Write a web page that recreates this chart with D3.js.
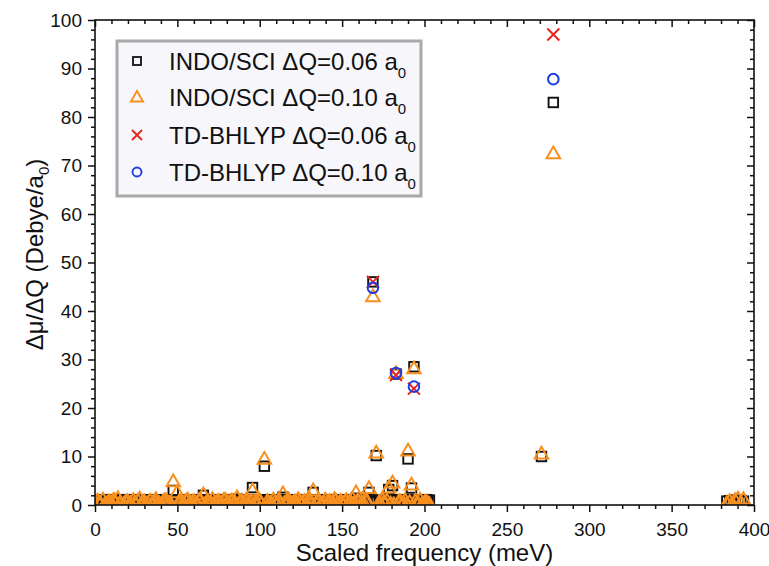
<!DOCTYPE html>
<html>
<head>
<meta charset="utf-8">
<script src="https://cdn.jsdelivr.net/npm/d3@7"></script>
<style>
  html, body { margin: 0; padding: 0; background: #fff; }
  svg { display: block; font-family: "Liberation Sans", Arial, sans-serif; }
</style>
</head>
<body>
<svg id="chart" width="769" height="566"></svg>
<script>
// Vibrational modes: scaled frequency (meV)
const modeFreq = [
  1.5, 3.2, 4.8, 6.5, 8.1, 10.3, 12.0, 13.9, 15.6, 17.4,
  19.8, 21.5, 23.3, 25.0, 27.2, 29.1, 31.0, 33.4, 35.2, 37.0,
  39.1, 41.3, 43.0, 45.2, 47.5, 49.8, 52.0, 54.1, 56.3, 58.0,
  60.2, 62.4, 64.0, 65.8, 67.7, 69.5, 71.3, 73.0, 75.2, 77.1,
  79.0, 80.8, 82.6, 84.3, 86.2, 88.0, 89.9, 91.7, 93.5, 95.6,
  97.5, 99.3, 101.0, 102.8, 104.6, 106.5, 108.3, 110.2, 112.0, 114.1,
  116.0, 117.8, 119.6, 121.5, 123.3, 125.1, 127.0, 128.8, 130.6, 132.4,
  134.3, 136.1, 138.0, 139.8, 141.6, 143.5, 145.3, 147.1, 149.0, 150.8,
  152.6, 154.4, 156.3, 158.4, 160.2, 162.0, 164.1, 166.3, 168.7, 170.7,
  172.5, 174.4, 176.2, 178.3, 180.6, 182.7, 184.6, 186.4, 188.2, 190.0,
  192.1, 193.6, 195.4, 197.3, 199.1, 201.0, 203.0, 271.0, 278.2, 383.5,
  385.2, 386.8, 388.5, 390.3, 392.0, 393.6
];
// INDO/SCI, ΔQ = 0.06 a0
const indoQ006 = [
  1.0, 0.9, 1.1, 0.9, 1.0, 0.8, 1.1, 1.0, 0.9, 1.0,
  1.1, 0.8, 1.0, 1.0, 1.1, 0.9, 1.0, 1.0, 1.1, 0.9,
  1.0, 0.8, 1.1, 1.0, 3.0, 1.0, 0.9, 1.1, 1.0, 1.0,
  0.9, 1.1, 1.0, 2.0, 1.0, 0.9, 1.1, 1.0, 1.0, 0.8,
  1.1, 1.0, 1.0, 0.9, 1.2, 1.0, 1.0, 0.9, 1.1, 3.6,
  1.0, 1.0, 0.9, 8.0, 1.1, 1.0, 1.0, 0.9, 1.1, 1.6,
  1.0, 1.0, 0.9, 1.1, 1.0, 1.0, 0.8, 1.1, 1.0, 2.6,
  1.0, 0.9, 1.1, 1.0, 1.0, 0.9, 1.1, 1.0, 1.0, 0.9,
  1.1, 1.0, 1.0, 1.4, 0.9, 1.0, 1.0, 2.6, 46.0, 10.2,
  1.0, 0.9, 1.1, 3.2, 4.0, 27.0, 1.0, 1.0, 1.1, 9.5,
  3.5, 28.5, 1.0, 1.0, 0.9, 1.1, 1.0, 10.0, 83.0, 0.8,
  0.9, 0.8, 1.0, 0.8, 0.9, 0.8
];
// INDO/SCI, ΔQ = 0.10 a0
const indoQ010 = [
  0.9, 0.4, 1.1, 0.3, 0.7, 0.2, 0.9, 1.4, 0.5, 0.2,
  0.8, 0.4, 1.0, 0.3, 1.3, 0.6, 0.2, 0.9, 0.5, 1.2,
  0.3, 0.7, 1.0, 0.4, 4.9, 2.6, 0.6, 0.3, 1.1, 0.5,
  0.8, 0.2, 1.0, 2.2, 0.6, 0.3, 1.2, 0.4, 0.8, 0.2,
  1.1, 0.5, 0.9, 0.3, 1.6, 0.6, 0.2, 1.0, 0.4, 3.0,
  0.7, 1.2, 0.3, 9.5, 0.8, 0.4, 1.1, 0.2, 0.9, 2.4,
  0.5, 1.0, 0.3, 0.7, 1.2, 0.4, 0.8, 0.2, 1.0, 3.0,
  0.5, 0.9, 0.3, 1.1, 0.6, 0.2, 1.2, 0.4, 0.8, 0.3,
  1.0, 0.5, 1.3, 2.6, 0.7, 0.3, 1.0, 3.5, 43.0, 10.8,
  0.6, 1.1, 0.4, 3.6, 4.6, 27.2, 0.8, 0.3, 1.0, 11.2,
  4.2, 28.2, 0.5, 1.1, 0.3, 0.7, 0.2, 10.6, 72.5, 0.4,
  0.8, 0.3, 1.0, 1.3, 0.5, 1.2
];
// Weakly coupled modes of the low-frequency band (meV)
const weakFreq = [
  2.4, 5.7, 9.2, 11.1, 14.8, 18.6, 20.7, 24.1, 26.1, 28.2,
  30.0, 32.2, 34.3, 36.1, 38.0, 40.2, 42.1, 44.1, 46.3, 51.0,
  53.0, 55.2, 57.1, 59.1, 61.3, 63.2, 66.8, 68.6, 70.4, 72.1,
  74.1, 76.1, 78.0, 79.9, 81.7, 83.4, 85.2, 87.1, 89.0, 90.8,
  92.6, 94.5, 98.4, 100.1, 105.5, 107.4, 109.2, 111.1, 113.0, 115.0,
  116.9, 118.7, 120.5, 122.4, 124.2, 126.0, 127.9, 129.7, 131.5, 135.2,
  137.0, 138.9, 140.7, 142.5, 144.4, 146.2, 148.0, 149.9, 151.7, 153.5,
  155.3, 157.3, 159.3, 161.1, 163.0, 165.2, 173.4, 175.3, 177.2, 179.4,
  181.6, 185.5, 187.3, 189.1, 191.0, 194.5, 196.3, 198.2, 200.0, 202.0
];
const weakQ006 = [
  1.0, 0.9, 1.0, 1.1, 0.9, 1.0, 1.0, 0.9, 1.1, 1.0,
  0.9, 1.0, 1.1, 1.0, 0.9, 1.0, 1.0, 1.1, 0.9, 1.0,
  1.0, 0.9, 1.1, 1.0, 1.0, 0.9, 1.0, 1.1, 1.0, 0.9,
  1.0, 1.0, 1.1, 0.9, 1.0, 1.0, 1.1, 1.0, 0.9, 1.0,
  1.0, 1.1, 0.9, 1.0, 1.0, 1.1, 0.9, 1.0, 1.0, 1.1,
  0.9, 1.0, 1.0, 1.1, 0.9, 1.0, 1.0, 0.9, 1.1, 1.0,
  1.0, 0.9, 1.1, 1.0, 1.0, 0.9, 1.0, 1.1, 1.0, 0.9,
  1.0, 1.1, 1.0, 0.9, 1.0, 1.1, 1.0, 0.9, 1.0, 1.1,
  1.0, 0.9, 1.0, 1.1, 1.0, 0.9, 1.0, 1.0, 1.1, 1.0
];
const weakQ010 = [
  0.5, 0.1, 0.6, 1.0, 0.3, 0.7, 0.1, 0.5, 0.9, 0.2,
  0.7, 0.4, 0.1, 0.8, 0.5, 0.2, 0.9, 0.6, 0.1, 0.7,
  0.3, 0.9, 0.1, 0.6, 0.4, 1.0, 0.2, 0.8, 0.5, 0.1,
  0.7, 0.3, 1.0, 0.5, 0.1, 0.8, 0.4, 0.2, 0.9, 0.6,
  0.1, 0.7, 0.3, 0.9, 0.5, 0.1, 0.6, 0.8, 0.2, 0.4,
  0.9, 0.1, 0.6, 0.3, 0.8, 0.5, 0.1, 0.7, 0.4, 0.9,
  0.2, 0.6, 0.1, 0.8, 0.4, 0.9, 0.2, 0.5, 0.7, 0.1,
  0.6, 0.3, 0.9, 0.1, 0.5, 0.8, 0.2, 0.6, 0.9, 0.3,
  0.1, 0.7, 0.4, 0.2, 0.6, 0.9, 0.3, 0.1, 0.5, 0.4
];
// TD-BHLYP results for the strongly coupled modes
const tdFreq = [168.7, 182.7, 193.6, 278.2];
const tdQ006 = [46.0, 26.8, 24.0, 97.0];
const tdQ010 = [44.8, 27.2, 24.4, 87.8];

const xTicks = [0, 50, 100, 150, 200, 250, 300, 350, 400];
const yTicks = [0, 10, 20, 30, 40, 50, 60, 70, 80, 90, 100];

const svg = d3.select("#chart");
const L = 95, R = 754, T = 20, B = 505;
const x = d3.scaleLinear().domain([0, 400]).range([L, R]);
const y = d3.scaleLinear().domain([0, 100]).range([B, T]);

const orange = "#f7901e", red = "#e8261c", blue = "#1e3be6";
const FONT = "Liberation Sans, Arial, sans-serif";

svg.append("defs").append("clipPath").attr("id", "plotClip")
  .append("rect").attr("x", L).attr("y", T - 10).attr("width", R - L).attr("height", B - T + 10);

const plot = svg.append("g").attr("clip-path", "url(#plotClip)");

const indo06 = modeFreq.map((f, i) => [f, indoQ006[i]]).concat(weakFreq.map((f, i) => [f, weakQ006[i]]));
const indo10 = modeFreq.map((f, i) => [f, indoQ010[i]]).concat(weakFreq.map((f, i) => [f, weakQ010[i]]));

// INDO/SCI 0.06: open squares
const sq = 9.5;
plot.append("g").selectAll("rect").data(indo06).join("rect")
  .attr("x", d => x(d[0]) - sq / 2).attr("y", d => y(d[1]) - sq / 2)
  .attr("width", sq).attr("height", sq)
  .attr("fill", "none").attr("stroke", "#111").attr("stroke-width", 1.9);

// INDO/SCI 0.10: open triangles
const tri = d3.symbol().type(d3.symbolTriangle).size(80);
plot.append("g").selectAll("path").data(indo10).join("path")
  .attr("d", tri)
  .attr("transform", d => `translate(${x(d[0])},${y(d[1]) + 1})`)
  .attr("fill", "none").attr("stroke", orange).attr("stroke-width", 2);

// TD-BHLYP 0.06: crosses
const xs = 6;
plot.append("g").selectAll("path").data(tdFreq.map((f, i) => [f, tdQ006[i]])).join("path")
  .attr("d", d => {
    const cx = x(d[0]), cy = y(d[1]);
    return `M${cx - xs},${cy - xs}L${cx + xs},${cy + xs}M${cx - xs},${cy + xs}L${cx + xs},${cy - xs}`;
  })
  .attr("stroke", red).attr("stroke-width", 2).attr("fill", "none");

// TD-BHLYP 0.10: open circles
plot.append("g").selectAll("circle").data(tdFreq.map((f, i) => [f, tdQ010[i]])).join("circle")
  .attr("cx", d => x(d[0])).attr("cy", d => y(d[1])).attr("r", 5.3)
  .attr("fill", "none").attr("stroke", blue).attr("stroke-width", 2);

// Axes: outward ticks on bottom/left, mirrored inward on top/right
const axisG = svg.append("g");
const xMinor = d3.range(0, 401, 10).filter(v => v % 50 !== 0);
const yMinor = d3.range(0, 101, 2).filter(v => v % 10 !== 0);

function styleAxis(g) {
  g.select(".domain").remove();
  g.selectAll("line").attr("stroke", "#111").attr("stroke-width", 1.5);
}
function styleLabels(g) {
  g.selectAll("text").attr("font-size", 19).attr("fill", "#111").attr("font-family", FONT);
}

axisG.append("g").attr("transform", `translate(0,${B})`)
  .call(d3.axisBottom(x).tickValues(xTicks).tickSize(7).tickPadding(11).tickFormat(d3.format("d")))
  .call(styleAxis).call(styleLabels);
axisG.append("g").attr("transform", `translate(0,${B})`)
  .call(d3.axisBottom(x).tickValues(xMinor).tickSize(4).tickFormat(""))
  .call(styleAxis);
axisG.append("g").attr("transform", `translate(0,${T})`)
  .call(d3.axisBottom(x).tickValues(xTicks).tickSize(7).tickFormat(""))
  .call(styleAxis);
axisG.append("g").attr("transform", `translate(0,${T})`)
  .call(d3.axisBottom(x).tickValues(xMinor).tickSize(4).tickFormat(""))
  .call(styleAxis);

axisG.append("g").attr("transform", `translate(${L},0)`)
  .call(d3.axisLeft(y).tickValues(yTicks).tickSize(7).tickPadding(6).tickFormat(d3.format("d")))
  .call(styleAxis).call(styleLabels);
axisG.append("g").attr("transform", `translate(${L},0)`)
  .call(d3.axisLeft(y).tickValues(yMinor).tickSize(4).tickFormat(""))
  .call(styleAxis);
axisG.append("g").attr("transform", `translate(${R},0)`)
  .call(d3.axisLeft(y).tickValues(yTicks).tickSize(7).tickFormat(""))
  .call(styleAxis);
axisG.append("g").attr("transform", `translate(${R},0)`)
  .call(d3.axisLeft(y).tickValues(yMinor).tickSize(4).tickFormat(""))
  .call(styleAxis);

// Frame
svg.append("rect").attr("x", L).attr("y", T).attr("width", R - L).attr("height", B - T)
  .attr("fill", "none").attr("stroke", "#111").attr("stroke-width", 1.6);

// Axis titles
svg.append("text").attr("x", (L + R) / 2).attr("y", 561).attr("text-anchor", "middle")
  .attr("font-size", 24).attr("fill", "#111").text("Scaled frequency (meV)");

const yt = svg.append("text").attr("transform", `translate(43,${(T + B) / 2 - 8}) rotate(-90)`)
  .attr("text-anchor", "middle").attr("font-size", 24).attr("fill", "#111");
yt.append("tspan").text("Δμ/ΔQ (Debye/a");
yt.append("tspan").attr("font-size", 15).attr("dy", 6).text("0");
yt.append("tspan").attr("dy", -6).text(")");

// Legend
const legendNames = ["INDO/SCI ", "INDO/SCI ", "TD-BHLYP ", "TD-BHLYP "];
const legendQ = ["0.06", "0.10", "0.06", "0.10"];
const lg = svg.append("g");
lg.append("rect").attr("x", 117).attr("y", 41).attr("width", 304).attr("height", 155)
  .attr("fill", "#f6f6fb").attr("stroke", "#a9a9a9").attr("stroke-width", 3);
const rowY = [61, 97, 135, 172];
legendNames.forEach((name, i) => {
  const cy = rowY[i], cx = 137;
  if (i === 0) {
    lg.append("rect").attr("x", cx - 4).attr("y", cy - 4).attr("width", 8).attr("height", 8)
      .attr("fill", "none").attr("stroke", "#111").attr("stroke-width", 1.8);
  } else if (i === 1) {
    lg.append("path").attr("d", d3.symbol().type(d3.symbolTriangle).size(64)).attr("transform", `translate(${cx},${cy + 1})`)
      .attr("fill", "none").attr("stroke", orange).attr("stroke-width", 1.9);
  } else if (i === 2) {
    lg.append("path").attr("d", `M${cx - 5},${cy - 5}L${cx + 5},${cy + 5}M${cx - 5},${cy + 5}L${cx + 5},${cy - 5}`)
      .attr("stroke", red).attr("stroke-width", 1.9);
  } else {
    lg.append("circle").attr("cx", cx).attr("cy", cy).attr("r", 4.5)
      .attr("fill", "none").attr("stroke", blue).attr("stroke-width", 1.9);
  }
  const t = lg.append("text").attr("x", 169).attr("y", cy + 9).attr("font-size", 24).attr("fill", "#111");
  t.append("tspan").text(name + "ΔQ=" + legendQ[i] + " a");
  t.append("tspan").attr("font-size", 15).attr("dy", 8).text("0");
});
</script>
</body>
</html>
